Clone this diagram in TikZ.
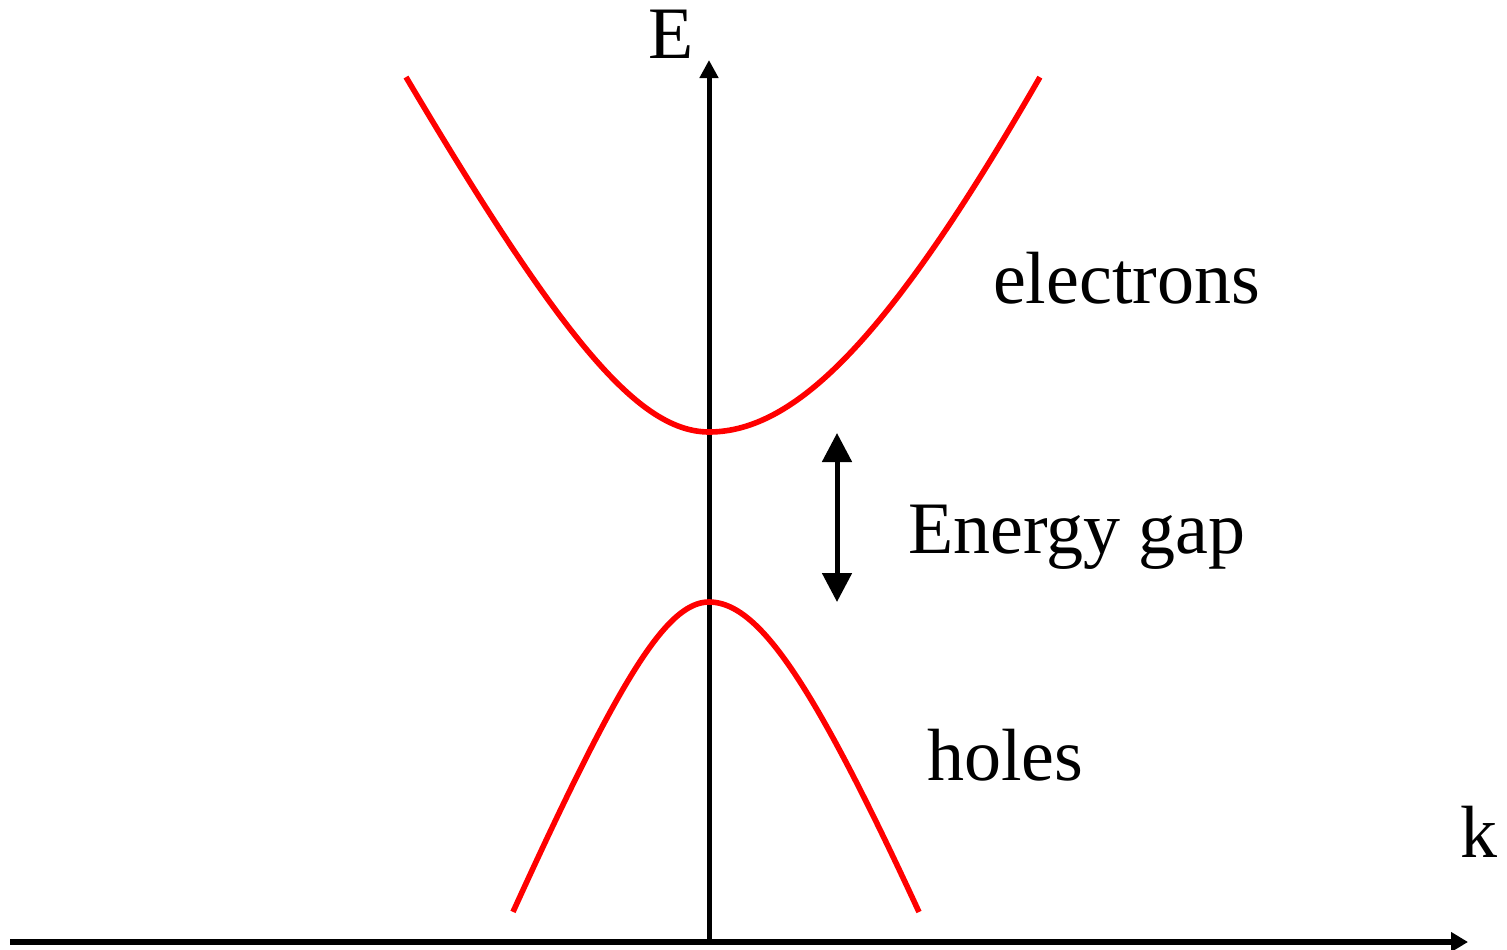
\documentclass[tikz,border=0pt]{standalone}
\usepackage{fontspec}
\setmainfont{Liberation Serif}
\usetikzlibrary{arrows.meta}
\tikzset{
  lbl/.style={inner sep=0pt, outer sep=0pt, anchor=base west, font=\fontsize{74}{80}\selectfont},
  axis/.style={line width=5pt, black},
  band/.style={line width=5.6pt, red},
  gaparrow/.style={line width=5pt, black, {Triangle[length=29pt,width=29pt]}-{Triangle[length=29pt,width=29pt]}}
}
\begin{document}
\begin{tikzpicture}[x=1pt,y=-1pt]
\useasboundingbox (0,0) rectangle (1507,950);
% axes
\coordinate (kstart) at (10,942);
\coordinate (kend) at (1468,942);
\coordinate (Ebot) at (709,939);
\coordinate (Etop) at (709,60);
\draw[axis, line width=6pt, -{Triangle[length=17pt,width=19pt]}] (kstart) -- (kend);
\draw[axis, -{Triangle[length=18pt,width=18pt]}] (Ebot) -- (Etop);
% labels
\node[lbl] (E) at (648,59) {E};
\node[lbl] (k) at (1460,857) {k};
\node[lbl] (el) at (993,303) {electrons};
\node[lbl] (gap) at (908,553) {Energy gap};
\node[lbl] (ho) at (927,780) {holes};
% conduction band (electrons)
\draw[band] plot[domain=-3.03:0, samples=80, smooth] ({709+100*\x}, {432-100*(-2.8+sqrt(2.8*2.8+3.537*\x*\x))});
\draw[band] plot[domain=0:3.31, samples=80, smooth] ({709+100*\x}, {432-100*(-5.78+sqrt(5.78*5.78+4.896*\x*\x))});
% valence band (holes)
\draw[band] plot[domain=-1.96:0, samples=80, smooth] ({709+100*\x}, {602+100*(-1.98+sqrt(1.98*1.98+5.694*\x*\x))});
\draw[band] plot[domain=0:2.10, samples=80, smooth] ({709+100*\x}, {602+100*(-2.70+sqrt(2.70*2.70+5.976*\x*\x))});
% energy gap arrow
\coordinate (gtop) at (837,433);
\coordinate (gbot) at (837,602);
\draw[gaparrow] (gtop) -- (gbot);
\end{tikzpicture}
\end{document}
